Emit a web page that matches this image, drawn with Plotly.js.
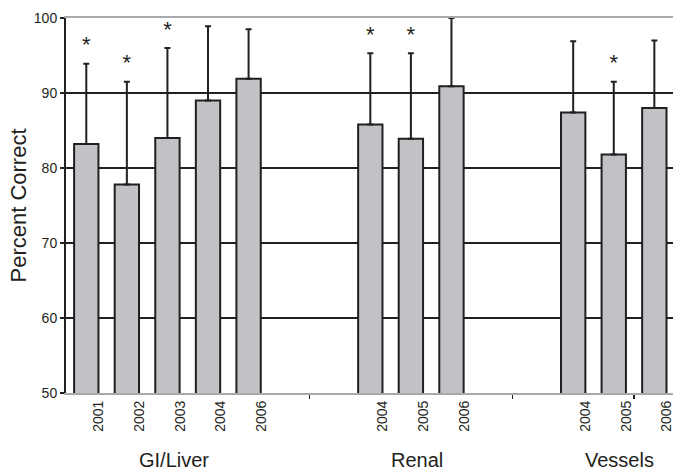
<!DOCTYPE html>
<html>
<head>
<meta charset="utf-8">
<script src="https://cdn.plot.ly/plotly-3.0.1.min.js"></script>
<style>html,body{margin:0;padding:0;background:#fff;}#chart{width:673px;height:471px;}</style>
</head>
<body>
<div id="chart"></div>
<script>
// ---- data ----
var groups = ['GI/Liver', 'Renal', 'Vessels'];
var giYears = ['2001', '2002', '2003', '2004', '2006'];
var giValues = [83.2, 77.8, 84.0, 89.0, 91.9];
var giErrors = [10.7, 13.7, 12.0, 9.9, 6.6];
var giSig = [true, true, true, false, false];
var renalYears = ['2004', '2005', '2006'];
var renalValues = [85.8, 83.9, 90.9];
var renalErrors = [9.5, 11.4, 9.1];
var renalSig = [true, true, false];
var vesselsYears = ['2004', '2005', '2006'];
var vesselsValues = [87.4, 81.8, 88.0];
var vesselsErrors = [9.5, 9.7, 9.0];
var vesselsSig = [false, true, false];
var yTicks = [50, 60, 70, 80, 90, 100];

// ---- build positions (slots with a 2-slot gap between groups) ----
var groupYears = [giYears, renalYears, vesselsYears];
var groupValues = [giValues, renalValues, vesselsValues];
var groupErrors = [giErrors, renalErrors, vesselsErrors];
var groupSig = [giSig, renalSig, vesselsSig];
var GAP = 2;
var xs = [], ys = [], es = [], labels = [], groupCenters = [], starX = [], starY = [];
var slot = 0, sepTicks = [];
for (var g = 0; g < groups.length; g++) {
  var start = slot;
  for (var i = 0; i < groupYears[g].length; i++) {
    xs.push(slot); ys.push(groupValues[g][i]); es.push(groupErrors[g][i]);
    labels.push(groupYears[g][i]);
    if (groupSig[g][i]) { starX.push(slot); starY.push(groupValues[g][i] + groupErrors[g][i]); }
    slot++;
  }
  groupCenters.push((start + slot - 1) / 2);
  if (g < groups.length - 1) { sepTicks.push(slot + 0.5); }
  slot += GAP;
}
sepTicks.push(13.5);
var labelX = xs.map(function (x) { return x + 0.31; });
var ink = '#231f20';

var traces = [
  {
    type: 'bar', x: xs, y: ys, width: 0.6,
    marker: { color: '#c1c2c6', line: { color: ink, width: 2 } },
    error_y: { type: 'data', symmetric: false, array: es, arrayminus: es.map(function () { return 0; }),
               color: ink, thickness: 2, width: 3 },
    hoverinfo: 'skip', showlegend: false
  },
  {
    type: 'scatter', mode: 'text+markers', x: starX, y: starY, text: starX.map(function () { return '*'; }),
    marker: { size: 8, opacity: 0 },
    textposition: 'top center', textfont: { family: 'Liberation Sans, Arial, sans-serif', size: 22, color: ink },
    cliponaxis: false, hoverinfo: 'skip', showlegend: false
  }
];

var annotations = groups.map(function (name, k) {
  return { text: name, x: groupCenters[k] + 0.15, xref: 'x', y: -0.214, yref: 'paper',
           xanchor: 'center', yanchor: 'bottom', showarrow: false,
           font: { family: 'Liberation Sans, Arial, sans-serif', size: 20, color: ink } };
});

var layout = {
  width: 673, height: 471,
  margin: { l: 66, r: 0, t: 18, b: 78, pad: 0 },
  paper_bgcolor: '#fff', plot_bgcolor: '#fff',
  font: { family: 'Liberation Sans, Arial, sans-serif', color: ink },
  bargap: 0,
  xaxis: {
    range: [-0.5, 14.46], showgrid: false, zeroline: false,
    showline: true, linecolor: '#a7a9ac', linewidth: 2, mirror: true,
    tickmode: 'array', tickvals: labelX, ticktext: labels, tickangle: -90,
    ticks: '', tickfont: { size: 14, color: ink }, ticklabeloverflow: 'allow',
    minor: { tickmode: 'array', tickvals: sepTicks, ticks: 'outside', ticklen: 4, tickwidth: 1.5, tickcolor: ink, showgrid: false }
  },
  yaxis: {
    range: [50, 100], tickmode: 'array', tickvals: yTicks,
    showgrid: true, gridcolor: ink, gridwidth: 2, zeroline: false,
    showline: true, linecolor: ink, linewidth: 2,
    ticks: 'outside', ticklen: 4, tickwidth: 1.5, tickcolor: ink,
    tickfont: { size: 14, color: ink },
    title: { text: 'Percent Correct', font: { size: 22, color: ink }, standoff: 1 }
  },
  annotations: annotations
};

Plotly.newPlot('chart', traces, layout, { displayModeBar: false, staticPlot: true });
</script>
</body>
</html>
